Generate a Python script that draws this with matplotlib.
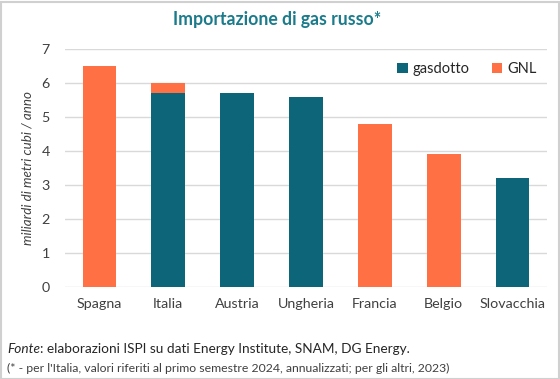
import matplotlib.pyplot as plt
from matplotlib.patches import Rectangle

plt.rcParams['font.family'] = ['Lato', 'DejaVu Sans']

# data
paesi = ['Spagna', 'Italia', 'Austria', 'Ungheria', 'Francia', 'Belgio', 'Slovacchia']
gasdotto = [0, 5.7, 5.7, 5.6, 0, 0, 3.2]
gnl = [6.5, 0.3, 0, 0, 4.8, 3.9, 0]

teal = '#0c6579'
orange = '#ff7145'
grey_txt = '#404040'

fig = plt.figure(figsize=(5.6, 3.79), dpi=100)
ax = fig.add_axes([65/560, 1 - 287/379, 482/560, 238/379])

x = range(len(paesi))
ax.bar(x, gasdotto, width=0.49, color=teal, label='gasdotto', zorder=3)
ax.bar(x, gnl, width=0.49, bottom=gasdotto, color=orange, label='GNL', zorder=3)

ax.set_xlim(-0.5, len(paesi) - 0.5)
ax.set_ylim(0, 7)
ax.set_yticks(range(0, 8))
ax.set_xticks(list(x))
ax.set_xticklabels(paesi)
ax.grid(axis='y', color='#d9d9d9', linewidth=1, zorder=0)
for s in ax.spines.values():
    s.set_visible(False)
ax.tick_params(length=0, labelsize=10.3, colors=grey_txt, pad=8)
ax.tick_params(axis='y', pad=11)
ax.set_ylabel('miliardi di metri cubi / anno', fontsize=9.6, style='italic',
              color=grey_txt, labelpad=6)

leg = ax.legend(loc='upper right', bbox_to_anchor=(0.99, 0.97), ncol=2, frameon=False,
                fontsize=10.5, handlelength=0.7, handleheight=0.7, handletextpad=0.35,
                columnspacing=1.5, borderaxespad=0)
for t in leg.get_texts():
    t.set_color('#262626')

fig.text(0.495, 1 - 20/379, 'Importazione di gas russo*', ha='center', va='center',
         fontsize=12.7, fontweight='bold', color='#1b7b8b')

fonte = fig.text(7/560, 1 - 353/379, 'Fonte', style='italic', fontsize=9.8,
                 color='#262626', va='baseline')
ax.annotate(': elaborazioni ISPI su dati Energy Institute, SNAM, DG Energy.',
            xy=(1, 0), xycoords=fonte, va='bottom', ha='left',
            fontsize=9.8, color='#262626', annotation_clip=False)
fig.text(7/560, 1 - 372/379,
         "(* - per l'Italia, valori riferiti al primo semestre 2024, annualizzati; per gli altri, 2023)",
         fontsize=8.8, color='#404040', va='baseline')

fig.patches.append(Rectangle((0.5/560, 0.5/379), 558/560, 377/379,
                             transform=fig.transFigure, fill=False,
                             edgecolor='#d0d0d0', linewidth=1.5))

fig.savefig('out.png', dpi=100)
